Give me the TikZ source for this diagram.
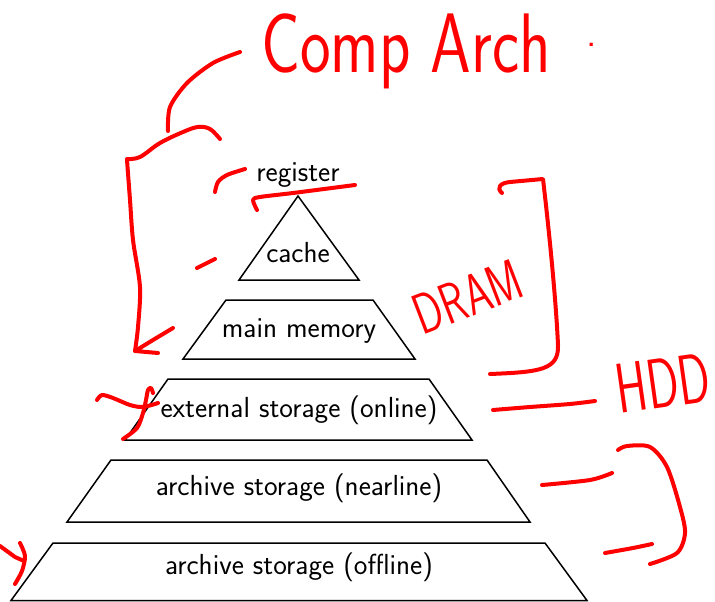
\documentclass[tikz,border=0pt]{standalone}
\begin{document}
\tikzset{
  box/.style={draw=black, line width=1.5pt, line join=miter},
  lbl/.style={font=\fontsize{29}{34}\selectfont\sffamily, inner sep=0pt},
  ink/.style={draw=red, line width=4pt, line cap=round, line join=round},
  hand/.style={text=red, inner sep=0pt}
}
\begin{tikzpicture}[x=1pt,y=-1pt]
\useasboundingbox (0,0) rectangle (715,602);
\fill[white] (0,0) rectangle (715,602);

% pyramid
\draw[box] (298,196) -- (359,280) -- (239,280) -- cycle;
\draw[box] (226,300) -- (373,300) -- (415,359) -- (183,359) -- cycle;
\draw[box] (168,379) -- (429,379) -- (472,440) -- (125,440) -- cycle;
\draw[box] (111,460) -- (487,460) -- (530,522) -- (67,522) -- cycle;
\draw[box] (53,543) -- (545,543) -- (587,600.5) -- (11,600.5) -- cycle;

\node[lbl, anchor=base] (reg) at (298,181) {register};
\node[lbl, anchor=base] (cache) at (298,262) {cache};
\node[lbl, anchor=base] (mm) at (299,337) {main memory};
\node[lbl, anchor=base] (ext) at (299,417) {external storage (online)};
\node[lbl, anchor=base] (near) at (299,495) {archive storage (nearline)};
\node[lbl, anchor=base] (off) at (299,574) {archive storage (offline)};

% handwritten annotations
\node[hand, font=\fontsize{65}{65}\selectfont\sffamily, yscale=1.3, anchor=base] (title) at (406,73) {Comp Arch};
\node[hand, font=\fontsize{40}{40}\selectfont\sffamily, anchor=base] (dot) at (592,47) {.};
\node[hand, font=\fontsize{41}{41}\selectfont\sffamily, rotate=21, yscale=1.4] (dram) at (468,297) {DRAM};
\node[hand, font=\fontsize{47}{47}\selectfont\sffamily, rotate=8, yscale=1.5] (hdd) at (663,383) {HDD};

% top curl
\draw[ink] plot[smooth] coordinates {(168,131) (170,107) (187,83) (213,63) (240,52)};
% left bracket
\draw[ink] plot[smooth, tension=0.6] coordinates {(220,139) (210,129) (198,127) (183,132) (160,143) (140,157) (127,159)};
\draw[ink] plot[smooth] coordinates {(127,160) (130,200) (133,240) (140,287) (138,327) (135,351)};
\draw[ink] (173,328) -- (153,340) -- (135,351) -- (158,353);
% register marks
\draw[ink] plot[smooth] coordinates {(245,169) (227,175) (218,182) (215,192)};
\draw[ink] plot[smooth] coordinates {(257,210) (253,200) (260,197) (293,193) (355,185)};
\draw[ink] (197,268) -- (215,259);
% right bracket
\draw[ink] (502,193) .. controls (496,188) and (500,183) .. (510,182) -- (543,179)
  .. controls (549,230) and (556,300) .. (558,345)
  .. controls (559,370) and (540,372) .. (490,374);
% HDD line
\draw[ink] plot[smooth] coordinates {(493,410) (530,407) (570,404) (595,401)};
% lower right bracket
\draw[ink] plot[smooth] coordinates {(618,450) (627,446) (650,447) (667,467) (680,507) (685,533) (677,553) (650,564)};
\draw[ink] plot[smooth] coordinates {(542,485) (590,480) (612,473)};
\draw[ink] plot[smooth] coordinates {(605,553) (633,548) (652,544)};
% f mark
\draw[ink] plot[smooth] coordinates {(97,400) (102,395) (113,398) (130,405) (143,407) (158,403)};
\draw[ink] plot[smooth] coordinates {(153,393) (151,388) (148,390) (146,400) (143,413) (137,428) (123,439)};
% offline mark
\draw[ink] (0,546) -- (15,557) -- (24,561);
\draw[ink] plot[smooth] coordinates {(20,543) (25,556) (22,571) (15,584)};
\end{tikzpicture}
\end{document}
